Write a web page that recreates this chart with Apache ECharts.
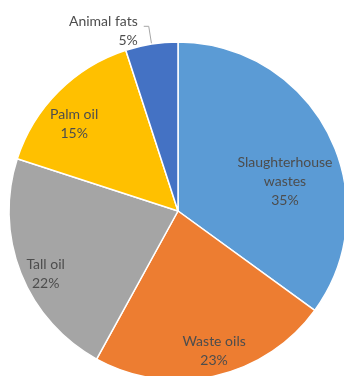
<!DOCTYPE html>
<html><head><meta charset="utf-8">
<script src="https://cdn.jsdelivr.net/npm/echarts@6/dist/echarts.min.js"></script>
<style>html,body{margin:0;padding:0;background:#fff}#c{width:344px;height:376px}</style>
</head><body><div id="c"></div>
<script>
const categories = ['Slaughterhouse\nwastes', 'Waste oils', 'Tall oil', 'Palm oil', 'Animal fats'];
const values = [35, 23, 22, 15, 5];
const colors = ['#5B9BD5', '#ED7D31', '#A5A5A5', '#FFC000', '#4472C4'];
const labelShift = [[29, 10], [17, 55], [-51, 31], [-42, -25], [-1, 5]];

const chart = echarts.init(document.getElementById('c'));
chart.setOption({
  animation: false,
  series: [{
    type: 'pie',
    center: [178, 211],
    radius: 169,
    startAngle: 90,
    clockwise: true,
    avoidLabelOverlap: false,
    itemStyle: { borderColor: '#fff', borderWidth: 1.5 },
    label: {
      position: 'inside',
      formatter: '{b}\n{d}%',
      color: '#4d4d4d',
      fontFamily: 'Lato',
      fontSize: 14,
      lineHeight: 19
    },
    labelLayout: function (p) {
      const s = labelShift[p.dataIndex];
      return { dx: s[0], dy: s[1] };
    },
    data: categories.map((c, i) => {
      const d = { name: c, value: values[i], itemStyle: { color: colors[i] } };
      if (i === 4) {
        d.label = { position: 'outside', align: 'right' };
        d.labelLine = { show: true, length: 18, length2: 5, lineStyle: { color: '#A6A6A6', width: 1 } };
      }
      return d;
    })
  }]
});
</script></body></html>
